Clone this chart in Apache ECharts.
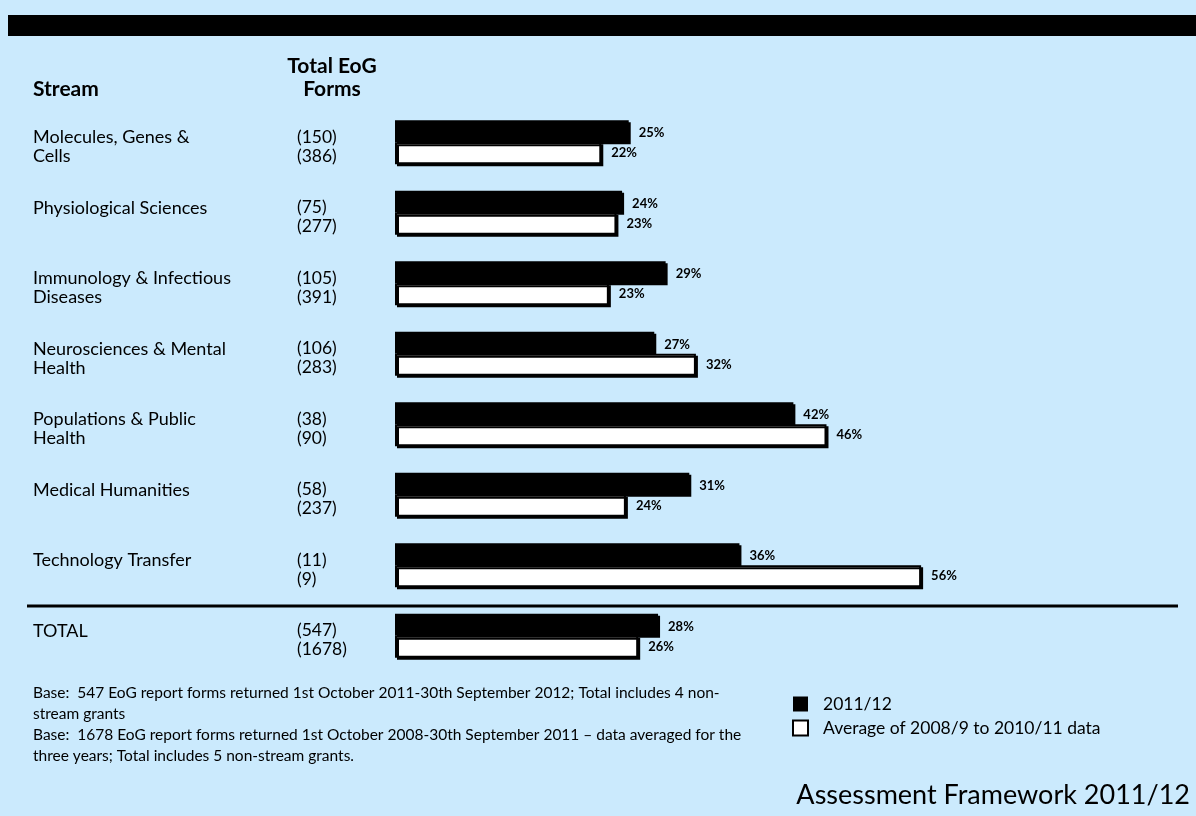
<!DOCTYPE html>
<html><head><meta charset="utf-8">
<script src="https://cdn.jsdelivr.net/npm/echarts@6/dist/echarts.min.js"></script>
<style>html,body{margin:0;padding:0;background:#cbeafd}#c{width:1196px;height:816px}</style>
</head><body><div id="c"></div>
<script>
const streams = [
  'Molecules, Genes &\nCells',
  'Physiological Sciences',
  'Immunology & Infectious\nDiseases',
  'Neurosciences & Mental\nHealth',
  'Populations & Public\nHealth',
  'Medical Humanities',
  'Technology Transfer',
  'TOTAL'
];
const forms2011 = [150, 75, 105, 106, 38, 58, 11, 547];
const formsAvg = [386, 277, 391, 283, 90, 237, 9, 1678];
const pct2011 = [24.7, 24.0, 28.6, 27.4, 42.1, 31.1, 36.4, 27.8];
const pctAvg = [21.8, 23.4, 22.6, 31.8, 45.6, 24.4, 55.6, 25.7];
const seriesNames = ['2011/12', 'Average of 2008/9 to 2010/11 data'];
const footnote = [
  'Base:  547 EoG report forms returned 1st October 2011-30th September 2012; Total includes 4 non-',
  'stream grants',
  'Base:  1678 EoG report forms returned 1st October 2008-30th September 2011 \u2013 data averaged for the',
  'three years; Total includes 5 non-stream grants.'
];

const FONT = 'Lato, "Open Sans", sans-serif';
const chart = echarts.init(document.getElementById('c'));

function catLabel(value, idx) {
  const lines = value.split('\n');
  const l1 = '{n|' + lines[0] + '}{c|(' + forms2011[idx] + ')}';
  const l2 = '{n|' + (lines[1] || ' ') + '}{c|(' + formsAvg[idx] + ')}';
  return l1 + '\n' + l2;
}

const barLabel = {
  show: true, position: 'right', distance: 10,
  fontFamily: FONT, fontWeight: 'bold', fontSize: 13, color: '#000',
  formatter: p => Math.round(p.value) + '%'
};

chart.setOption({
  backgroundColor: '#cbeafd',
  animation: false,
  title: [
    { text: 'Stream', left: 28, top: 73, textStyle: { fontFamily: FONT, fontWeight: 'bold', fontSize: 21, color: '#000', lineHeight: 23 } },
    { text: 'Total EoG\nForms', left: 327, top: 50, textAlign: 'center', textStyle: { fontFamily: FONT, fontWeight: 'bold', fontSize: 21, color: '#000', lineHeight: 23 } },
    { text: footnote.join('\n'), left: 28, top: 677, textStyle: { fontFamily: FONT, fontWeight: 'normal', fontSize: 15.5, color: '#000', lineHeight: 21 } },
    { text: 'Assessment Framework 2011/12', right: 1, top: 777, textStyle: { fontFamily: FONT, fontWeight: 'normal', fontSize: 27, color: '#000' } }
  ],
  legend: {
    orient: 'vertical', left: 787, top: 690, itemGap: 6,
    itemWidth: 15, itemHeight: 15, icon: 'rect',
    textStyle: { fontFamily: FONT, fontSize: 17.5, color: '#000', padding: [0, 0, 0, 10] },
    data: [
      { name: seriesNames[0], itemStyle: { color: '#000' } },
      { name: seriesNames[1], itemStyle: { color: '#fff', borderColor: '#000', borderWidth: 2 } }
    ]
  },
  grid: { left: 395, top: 107, height: 564, width: 757 },
  xAxis: { type: 'value', min: 0, max: 80, show: false },
  yAxis: {
    type: 'category', inverse: true, data: streams,
    axisLine: { show: false }, axisTick: { show: false },
    axisLabel: {
      align: 'left', margin: 362, padding: [9, 0, 0, 0],
      formatter: catLabel,
      rich: {
        n: { fontFamily: FONT, fontSize: 18, color: '#000', width: 264, lineHeight: 19 },
        c: { fontFamily: FONT, fontSize: 17.5, color: '#000', lineHeight: 19 }
      }
    }
  },
  series: [
    {
      name: seriesNames[0], type: 'bar', data: pct2011, barWidth: 22, barGap: '0%',
      itemStyle: { color: '#000', shadowColor: '#000', shadowOffsetX: 2, shadowOffsetY: 2, shadowBlur: 0 },
      label: Object.assign({}, barLabel, { offset: [0, 2] }),
      emphasis: { disabled: true }
    },
    {
      name: seriesNames[1], type: 'bar', data: pctAvg, barWidth: 22,
      itemStyle: { color: '#fff', borderColor: '#000', borderWidth: 2, shadowColor: '#000', shadowOffsetX: 2, shadowOffsetY: 2, shadowBlur: 0 },
      label: barLabel,
      emphasis: { disabled: true }
    }
  ]
});

const yA = chart.convertToPixel({ yAxisIndex: 0 }, streams[6]);
const yB = chart.convertToPixel({ yAxisIndex: 0 }, streams[7]);
const sepY = Math.round((yA + yB) / 2) + 5;
chart.setOption({
  graphic: [
    { type: 'rect', shape: { x: 8, y: 15, width: 1188, height: 21 }, style: { fill: '#000' }, silent: true },
    { type: 'line', shape: { x1: 27, y1: sepY, x2: 1178, y2: sepY }, style: { stroke: '#000', lineWidth: 3 }, silent: true }
  ]
});
</script>
</body></html>
